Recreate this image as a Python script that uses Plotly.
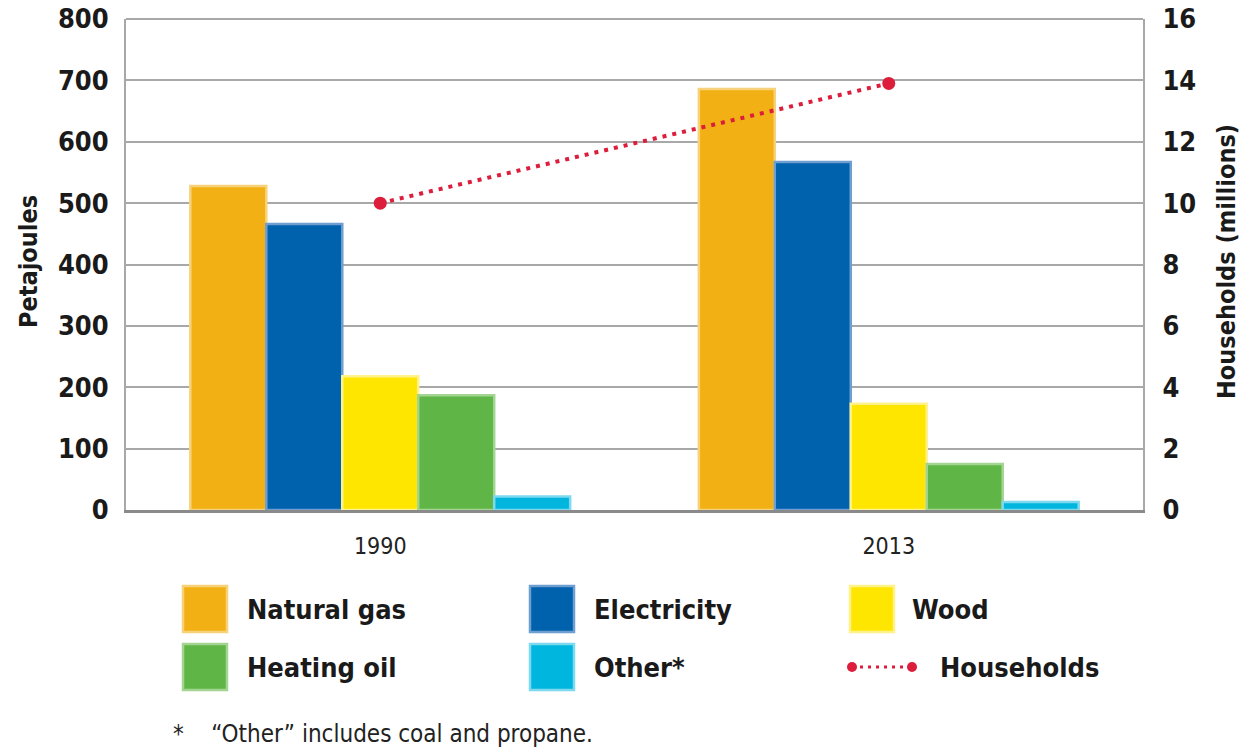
import plotly.graph_objects as go

# Residential energy use by source, with number of households
years = ["1990", "2013"]
sources = ["Natural gas", "Electricity", "Wood", "Heating oil", "Other*"]
natural_gas = [528, 686]
electricity = [466, 567]
wood = [218, 173]
heating_oil = [187, 75]
other = [22, 13]
households = [10.0, 13.9]

series = [natural_gas, electricity, wood, heating_oil, other]
fills = ["#F2B015", "#0061AC", "#FFE600", "#5FB646", "#00B6DE"]
edges = ["#F7D27A", "#6E9FD0", "#FFF28A", "#A3D492", "#7ED8EE"]
line_red = "#DC1E3C"

left_ticks = list(range(0, 801, 100))
right_ticks = list(range(0, 17, 2))

FONT = "DejaVu Sans Condensed, Liberation Sans, sans-serif"

# plot area in pixels (used to place the hand-built legend)
L, R, T, B = 126, 1143, 19, 510
W, H = 1241, 748


def px(x):
    return (x - L) / (R - L)


def py(y):
    return (B - y) / (B - T)


fig = go.Figure()
for name, vals, fc, ec in zip(sources, series, fills, edges):
    fig.add_trace(go.Bar(
        x=years, y=vals, name=name,
        marker=dict(color=fc, line=dict(color=ec, width=2.5)),
        showlegend=False,
    ))

fig.add_trace(go.Scatter(
    x=years, y=households, name="Households", yaxis="y2",
    mode="lines+markers",
    line=dict(color=line_red, width=4, dash="4px,6px"),
    marker=dict(color=line_red, size=13),
    showlegend=False,
))

fig.update_layout(
    width=W, height=H,
    margin=dict(l=L, r=W - R, t=T, b=H - B, autoexpand=False),
    paper_bgcolor="white", plot_bgcolor="white",
    barmode="group", bargap=0.253, bargroupgap=0,
    font=dict(family=FONT, color="#1a1a1a"),
    xaxis=dict(
        showgrid=False, showline=True, linecolor="#8a8a8a", linewidth=3,
        mirror=False, ticks="", automargin=False,
        tickfont=dict(size=23, color="#222222"),
        ticklabelstandoff=13,
    ),
    yaxis=dict(
        range=[0, 800], tickvals=left_ticks,
        showgrid=True, gridcolor="#a8a8a8", gridwidth=2,
        showline=True, linecolor="#a8a8a8", linewidth=2,
        zeroline=False, ticks="", automargin=False,
        tickfont=dict(size=27, weight="bold", color="#1a1a1a"),
        ticklabelstandoff=10,
    ),
    yaxis2=dict(
        range=[0, 16], tickvals=right_ticks, overlaying="y", side="right",
        showgrid=False, showline=True, linecolor="#a8a8a8", linewidth=2,
        zeroline=False, ticks="", automargin=False,
        tickfont=dict(size=27, weight="bold", color="#1a1a1a"),
        ticklabelstandoff=12,
    ),
)

# top border of the plot frame
fig.add_shape(type="line", xref="paper", yref="paper", x0=0, x1=1, y0=1, y1=1,
              line=dict(color="#a8a8a8", width=2))

# axis titles
fig.add_annotation(x=px(28), y=py(262), xref="paper", yref="paper",
                   xanchor="center", yanchor="middle",
                   text="<b>Petajoules</b>", textangle=-90, showarrow=False,
                   font=dict(size=25, family=FONT, color="#1a1a1a"))
fig.add_annotation(x=px(1226), y=py(262), xref="paper", yref="paper",
                   xanchor="center", yanchor="middle",
                   text="<b>Households (millions)</b>", textangle=-90, showarrow=False,
                   font=dict(size=25, family=FONT, color="#1a1a1a"))

# legend: swatches and labels laid out in two rows of three
cols = [(183, 245), (530, 592), (850, 910)]
rows = [609, 667]
entries = list(zip(sources, fills, edges))
for i, (name, fc, ec) in enumerate(entries):
    r, c = divmod(i, 3)
    sx, tx = cols[c]
    cy = rows[r]
    fig.add_shape(type="rect", xref="paper", yref="paper",
                  x0=px(sx), x1=px(sx + 44), y0=py(cy - 23), y1=py(cy + 23),
                  fillcolor=fc, line=dict(color=ec, width=2.5))
    fig.add_annotation(x=px(tx), y=py(cy), xref="paper", yref="paper",
                       text=f"<b>{name}</b>", showarrow=False,
                       xanchor="left", yanchor="middle",
                       font=dict(size=27, family=FONT, color="#1a1a1a"))

# households legend entry: dotted line with end markers
hx0, hx1, hy = 852, 912, rows[1]
fig.add_shape(type="line", xref="paper", yref="paper",
              x0=px(hx0), x1=px(hx1), y0=py(hy), y1=py(hy),
              line=dict(color=line_red, width=3, dash="3px,5px"))
for hx in (hx0, hx1):
    fig.add_shape(type="circle", xref="paper", yref="paper",
                  x0=px(hx - 5), x1=px(hx + 5), y0=py(hy - 5), y1=py(hy + 5),
                  fillcolor=line_red, line=dict(color=line_red, width=0))
fig.add_annotation(x=px(938), y=py(hy), xref="paper", yref="paper",
                   text="<b>Households</b>", showarrow=False,
                   xanchor="left", yanchor="middle",
                   font=dict(size=27, family=FONT, color="#1a1a1a"))

# footnote
fig.add_annotation(x=px(171), y=py(734), xref="paper", yref="paper",
                   text="*&nbsp;&nbsp;&nbsp;&nbsp;\u201cOther\u201d includes coal and propane.",
                   showarrow=False, xanchor="left", yanchor="middle",
                   font=dict(size=24, family=FONT, color="#222222"))

fig.write_html("out.html")
